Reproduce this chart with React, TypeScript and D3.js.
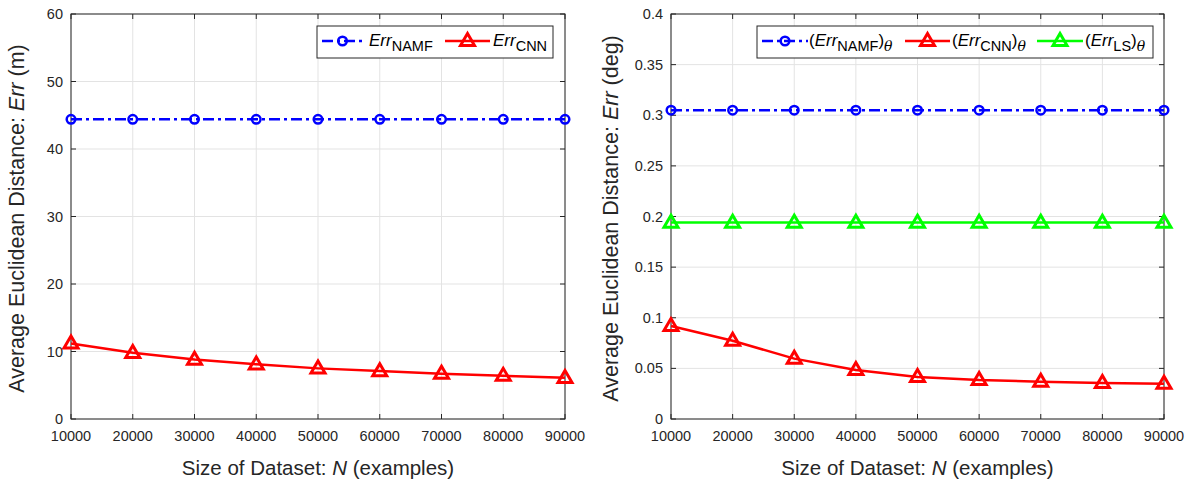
import React from "react";
import * as d3 from "d3";

const xValues = [10000, 20000, 30000, 40000, 50000, 60000, 70000, 80000, 90000];
const xTickLabels = ["10000", "20000", "30000", "40000", "50000", "60000", "70000", "80000", "90000"];

const leftNAMF = [44.4, 44.4, 44.4, 44.4, 44.4, 44.4, 44.4, 44.4, 44.4];
const leftCNN = [11.2, 9.8, 8.8, 8.1, 7.5, 7.1, 6.7, 6.4, 6.1];
const leftYTicks = [0, 10, 20, 30, 40, 50, 60];
const leftYTickLabels = ["0", "10", "20", "30", "40", "50", "60"];

const rightNAMF = [0.305, 0.305, 0.305, 0.305, 0.305, 0.305, 0.305, 0.305, 0.305];
const rightCNN = [0.0918, 0.0773, 0.0596, 0.0484, 0.0415, 0.0385, 0.0369, 0.0356, 0.0349];
const rightLS = [0.194, 0.194, 0.194, 0.194, 0.194, 0.194, 0.194, 0.194, 0.194];
const rightYTicks = [0, 0.05, 0.1, 0.15, 0.2, 0.25, 0.3, 0.35, 0.4];
const rightYTickLabels = ["0", "0.05", "0.1", "0.15", "0.2", "0.25", "0.3", "0.35", "0.4"];

const FONT = "'Liberation Sans', Arial, Helvetica, sans-serif";
const AX = "#262626";
const GRID = "#e3e3e3";
const BLUE = "#0000ff";
const RED = "#ff0000";
const GREEN = "#00ff00";

type SeriesKind = "namf" | "cnn" | "ls";

function Marker({ kind, x, y }: { kind: SeriesKind; x: number; y: number }) {
  if (kind === "namf") {
    return <circle cx={x} cy={y} r={4.3} fill="none" stroke={BLUE} strokeWidth={2.5} />;
  }
  const c = kind === "cnn" ? RED : GREEN;
  const h = 12;
  const w = 14;
  const pts = `${x},${y - h * 0.62} ${x - w / 2},${y + h * 0.38} ${x + w / 2},${y + h * 0.38}`;
  return <polygon points={pts} fill="none" stroke={c} strokeWidth={3} strokeLinejoin="miter" />;
}

function seriesStyle(kind: SeriesKind) {
  if (kind === "namf") return { stroke: BLUE, dash: "11,4,3,4" };
  if (kind === "cnn") return { stroke: RED, dash: undefined };
  return { stroke: GREEN, dash: undefined };
}

const subLabel: Record<SeriesKind, string> = { namf: "NAMF", cnn: "CNN", ls: "LS" };

function LegendText({ kind, x, y, theta }: { kind: SeriesKind; x: number; y: number; theta: boolean }) {
  return (
    <text x={x} y={y} fontFamily={FONT} fontSize={17} fill="#000">
      {theta ? <tspan>(</tspan> : null}
      <tspan fontStyle="italic">Err</tspan>
      <tspan fontSize={14.5} dy={5}>{subLabel[kind]}</tspan>
      {theta ? (
        <>
          <tspan dy={-5}>)</tspan>
          <tspan fontSize={14} fontStyle="italic" dy={5} fontFamily="'DejaVu Serif', serif">θ</tspan>
        </>
      ) : null}
    </text>
  );
}

type Series = { kind: SeriesKind; values: number[] };
type LegendItem = { kind: SeriesKind; l0: number; l1: number; tx: number };

function Panel(props: {
  x0: number;
  x1: number;
  y0: number;
  y1: number;
  yDomain: [number, number];
  yTicks: number[];
  yTickLabels: string[];
  series: Series[];
  yLabelX: number;
  yLabelUnit: string;
  legendX: number;
  legendW: number;
  legendItems: LegendItem[];
  theta: boolean;
}) {
  const { x0, x1, y0, y1 } = props;
  const xs = d3.scaleLinear().domain([10000, 90000]).range([x0, x1]);
  const ys = d3.scaleLinear().domain(props.yDomain).range([y1, y0]);
  const line = d3
    .line<number>()
    .x((_, i) => xs(xValues[i]))
    .y((d) => ys(d));
  const tickLen = 5;
  const legendY = 26;
  const legendH = 32;
  const midY = (y0 + y1) / 2 + 2;
  return (
    <g>
      <rect x={x0} y={y0} width={x1 - x0} height={y1 - y0} fill="#fff" />
      {xValues.map((v) => (
        <line key={"gx" + v} x1={xs(v)} x2={xs(v)} y1={y0} y2={y1} stroke={GRID} strokeWidth={1} />
      ))}
      {props.yTicks.map((v) => (
        <line key={"gy" + v} x1={x0} x2={x1} y1={ys(v)} y2={ys(v)} stroke={GRID} strokeWidth={1} />
      ))}
      {xValues.map((v) => (
        <g key={"tx" + v}>
          <line x1={xs(v)} x2={xs(v)} y1={y1} y2={y1 - tickLen} stroke={AX} />
          <line x1={xs(v)} x2={xs(v)} y1={y0} y2={y0 + tickLen} stroke={AX} />
        </g>
      ))}
      {props.yTicks.map((v) => (
        <g key={"ty" + v}>
          <line x1={x0} x2={x0 + tickLen} y1={ys(v)} y2={ys(v)} stroke={AX} />
          <line x1={x1} x2={x1 - tickLen} y1={ys(v)} y2={ys(v)} stroke={AX} />
        </g>
      ))}
      <rect x={x0} y={y0} width={x1 - x0} height={y1 - y0} fill="none" stroke={AX} strokeWidth={1} />
      {xValues.map((v, i) => (
        <text key={"lx" + v} x={xs(v)} y={y1 + 22} textAnchor="middle" fontFamily={FONT} fontSize={14.5} fill={AX}>
          {xTickLabels[i]}
        </text>
      ))}
      {props.yTicks.map((v, i) => (
        <text key={"ly" + v} x={x0 - 8} y={ys(v) + 5} textAnchor="end" fontFamily={FONT} fontSize={14.5} fill={AX}>
          {props.yTickLabels[i]}
        </text>
      ))}
      <text x={(x0 + x1) / 2} y={475} textAnchor="middle" fontFamily={FONT} fontSize={20.5} fill={AX}>
        Size of Dataset: <tspan fontStyle="italic">N</tspan> (examples)
      </text>
      <text
        transform={`translate(${props.yLabelX},${midY}) rotate(-90)`}
        textAnchor="middle"
        fontFamily={FONT}
        fontSize={21.5}
        fill={AX}
      >
        Average Euclidean Distance: <tspan fontStyle="italic">Err</tspan> ({props.yLabelUnit})
      </text>
      {props.series.map((s) => {
        const st = seriesStyle(s.kind);
        return (
          <g key={s.kind}>
            <path d={line(s.values) || ""} fill="none" stroke={st.stroke} strokeWidth={2.5} strokeDasharray={st.dash} />
            {s.values.map((v, i) => (
              <Marker key={i} kind={s.kind} x={xs(xValues[i])} y={ys(v)} />
            ))}
          </g>
        );
      })}
      <rect x={props.legendX} y={legendY} width={props.legendW} height={legendH} fill="#fff" stroke={AX} strokeWidth={1} />
      {props.legendItems.map((it) => {
        const st = seriesStyle(it.kind);
        const ly = legendY + 15;
        const lx0 = props.legendX + it.l0;
        const lx1 = props.legendX + it.l1;
        return (
          <g key={"lg" + it.kind}>
            <line x1={lx0} x2={lx1} y1={ly} y2={ly} stroke={st.stroke} strokeWidth={2.5} strokeDasharray={st.dash} />
            <Marker kind={it.kind} x={(lx0 + lx1) / 2} y={ly} />
            <LegendText kind={it.kind} x={props.legendX + it.tx} y={legendY + 20} theta={props.theta} />
          </g>
        );
      })}
    </g>
  );
}

export default function App() {
  return (
    <svg
      width={1188}
      height={482}
      style={{ position: "absolute", left: 0, top: 0, background: "#fff" }}
    >
      <rect x={0} y={0} width={1188} height={482} fill="#fff" />
      <Panel
        x0={71}
        x1={565}
        y0={14}
        y1={419}
        yDomain={[0, 60]}
        yTicks={leftYTicks}
        yTickLabels={leftYTickLabels}
        series={[
          { kind: "namf", values: leftNAMF },
          { kind: "cnn", values: leftCNN },
        ]}
        yLabelX={24}
        yLabelUnit="m"
        legendX={317}
        legendW={236}
        legendItems={[
          { kind: "namf", l0: 5, l1: 46, tx: 52 },
          { kind: "cnn", l0: 128, l1: 173, tx: 176 },
        ]}
        theta={false}
      />
      <Panel
        x0={671}
        x1={1164}
        y0={14}
        y1={419}
        yDomain={[0, 0.4]}
        yTicks={rightYTicks}
        yTickLabels={rightYTickLabels}
        series={[
          { kind: "namf", values: rightNAMF },
          { kind: "cnn", values: rightCNN },
          { kind: "ls", values: rightLS },
        ]}
        yLabelX={618}
        yLabelUnit="deg"
        legendX={757}
        legendW={396}
        legendItems={[
          { kind: "namf", l0: 5, l1: 51, tx: 52 },
          { kind: "cnn", l0: 148, l1: 193, tx: 195 },
          { kind: "ls", l0: 280, l1: 326, tx: 328 },
        ]}
        theta={true}
      />
    </svg>
  );
}
